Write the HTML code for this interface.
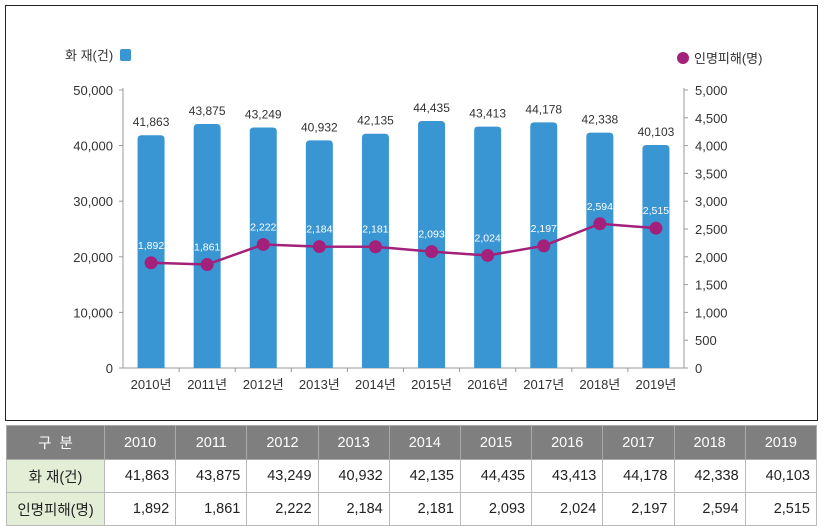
<!DOCTYPE html>
<html><head><meta charset="utf-8"><style>
body{margin:0;width:824px;height:525px;background:#fff;overflow:hidden;font-family:"Liberation Sans","Noto Sans CJK KR",sans-serif}
#box{position:absolute;left:5px;top:5px;width:811px;height:414px;border:1.5px solid #222}
table{position:absolute;left:6px;top:425px;width:811px;border-collapse:collapse;font-size:14.5px}
td{border:1px solid #bbb;height:30px;text-align:right;padding-right:6px;color:#222}
tr.h td{background:#7f7f7f;color:#fff;text-align:center;padding:0;height:33px;border-color:#aaa}
td.f{background:#e4edd6;text-align:center;padding:0;width:97px}
tr.h td.f{background:#7f7f7f}
</style></head><body>
<div id="box"></div>
<svg id="c" width="824" height="420" style="position:absolute;left:0;top:0"></svg>
<table>
<tr class="h"><td class="f">구 &nbsp;분</td><td>2010</td><td>2011</td><td>2012</td><td>2013</td><td>2014</td><td>2015</td><td>2016</td><td>2017</td><td>2018</td><td>2019</td></tr>
<tr><td class="f">화 재(건)</td><td>41,863</td><td>43,875</td><td>43,249</td><td>40,932</td><td>42,135</td><td>44,435</td><td>43,413</td><td>44,178</td><td>42,338</td><td>40,103</td></tr>
<tr><td class="f">인명피해(명)</td><td>1,892</td><td>1,861</td><td>2,222</td><td>2,184</td><td>2,181</td><td>2,093</td><td>2,024</td><td>2,197</td><td>2,594</td><td>2,515</td></tr>
</table>
<script>
const categories=["2010년","2011년","2012년","2013년","2014년","2015년","2016년","2017년","2018년","2019년"];
const fires=[41863,43875,43249,40932,42135,44435,43413,44178,42338,40103];
const casualties=[1892,1861,2222,2184,2181,2093,2024,2197,2594,2515];
const leftTicks=[0,10000,20000,30000,40000,50000];
const rightTicks=[0,500,1000,1500,2000,2500,3000,3500,4000,4500,5000];
const svg=document.getElementById('c');const NS='http://www.w3.org/2000/svg';
const X0=123,X1=684,Y0=368,Y1=90;const bw=(X1-X0)/categories.length;
const xc=i=>X0+bw*(i+0.5);const yl=v=>Y0-v/50000*(Y0-Y1);const yr=v=>Y0-v/5000*(Y0-Y1);
const fmt=v=>v.toLocaleString('en-US');
function mk(t,a,txt){const e=document.createElementNS(NS,t);for(const k in a)e.setAttribute(k,a[k]);if(txt!=null)e.textContent=txt;svg.appendChild(e);return e;}
let e;
e=mk('line',{x1:X0,y1:Y1-2,x2:X0,y2:Y0,stroke:'#999'});
e=mk('line',{x1:X1,y1:Y1-2,x2:X1,y2:Y0,stroke:'#999'});
e=mk('line',{x1:X0,y1:Y0,x2:X1,y2:Y0,stroke:'#999'});
leftTicks.forEach(v=>{mk('line',{x1:X0-4,y1:yl(v),x2:X0,y2:yl(v),stroke:'#999'});
e=mk('text',{x:X0-10,y:yl(v)+5,'text-anchor':'end','font-size':13,fill:'#333'},fmt(v));});
rightTicks.forEach(v=>{mk('line',{x1:X1,y1:yr(v),x2:X1+4,y2:yr(v),stroke:'#999'});
e=mk('text',{x:X1+11,y:yr(v)+5,'font-size':13,fill:'#333'},fmt(v));});
for(let i=1;i<categories.length;i++)mk('line',{x1:X0+bw*i,y1:Y0,x2:X0+bw*i,y2:Y0+4,stroke:'#999'});
categories.forEach((c,i)=>{const x=xc(i),y=yl(fires[i]);
e=mk('path',{d:`M${x-13.5},${Y0}V${y+4}Q${x-13.5},${y} ${x-9.5},${y}H${x+9.5}Q${x+13.5},${y} ${x+13.5},${y+4}V${Y0}Z`,fill:'#3a96d3'});
e=mk('text',{x:x,y:y-9,'text-anchor':'middle','font-size':12,fill:'#333'},fmt(fires[i]));
e=mk('text',{x:x,y:Y0+21,'text-anchor':'middle','font-size':13,fill:'#333'},c);});
e=mk('polyline',{points:casualties.map((v,i)=>xc(i)+','+yr(v)).join(' '),fill:'none',stroke:'#a3217a','stroke-width':2.5});
casualties.forEach((v,i)=>{e=mk('circle',{cx:xc(i),cy:yr(v),r:6.5,fill:'#a3217a'});
e=mk('text',{x:xc(i),y:yr(v)-14,'text-anchor':'middle','font-size':10.5,fill:'#fff'},fmt(v));});
e=mk('text',{x:65,y:60,'font-size':13,fill:'#333'},'화 재(건)');
e=mk('rect',{x:120,y:49,width:11,height:12,rx:2,fill:'#3a96d3'});
e=mk('circle',{cx:683,cy:58,r:6,fill:'#a3217a'});
e=mk('text',{x:694,y:63,'font-size':13,fill:'#333'},'인명피해(명)');
</script>
</body></html>
